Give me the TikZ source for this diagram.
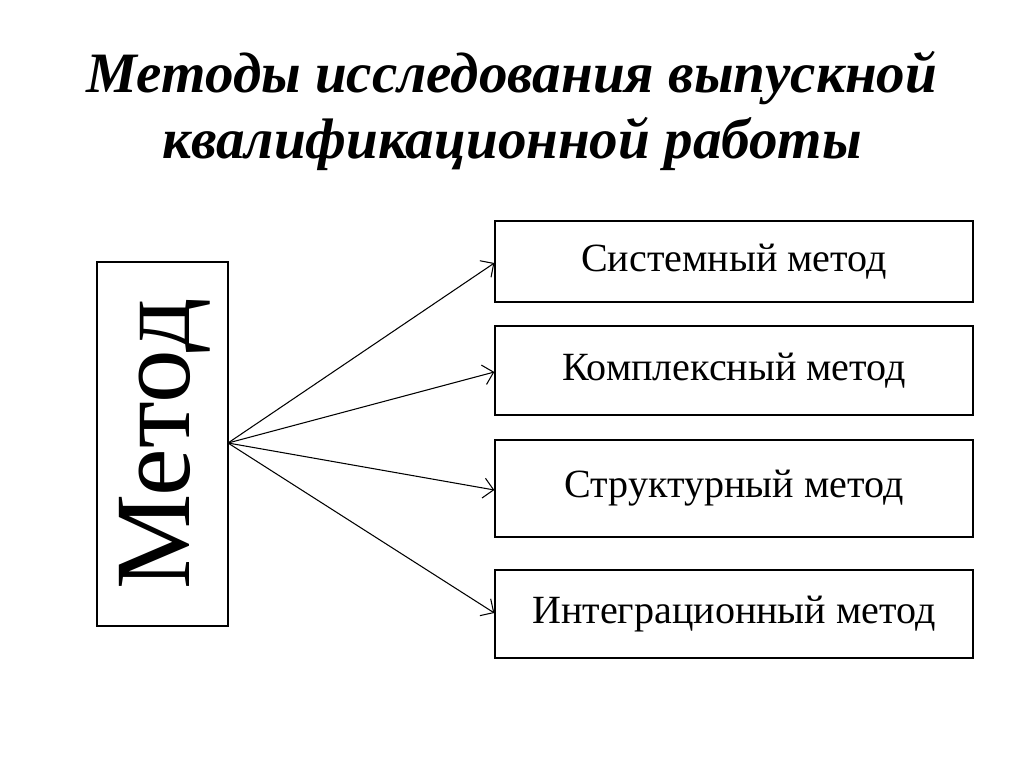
\documentclass[tikz,border=0pt]{standalone}
\usepackage{fontspec}
\setmainfont{Liberation Serif}
\usetikzlibrary{arrows.meta, positioning}

\begin{document}
\begin{tikzpicture}[
        x=0.02cm, y=-0.02cm,
        method/.style={
            rectangle,
            draw,
            thick,
            minimum width=9.56cm,
            font=\fontsize{22.8}{26}\selectfont
        },
        line/.style={
            draw,
            line width=0.6pt,
            -{Straight Barb[length=2mm]}
        }
    ]
    \useasboundingbox (0,0) rectangle (1024,767);
    % Title
    \node[font=\fontsize{32.5}{38}\selectfont\bfseries\itshape, align=center] (title) at (512,111)
        {Методы исследования выпускной\\квалификационной работы};

    % Nodes
    \node[draw, thick, minimum width=2.62cm, minimum height=7.28cm] (main) at (162.5,444) {};
    \node[rotate=90, font=\fontsize{61}{66}\selectfont] (mainlabel) at (165,444) {Метод};
    \node[method, minimum height=1.62cm] (system) at (734,261.5) {Системный метод};
    \node[method, minimum height=1.78cm] (complex) at (734,370.5) {Комплексный метод};
    \node[method, minimum height=1.94cm] (struct) at (734,488.5) {Структурный метод};
    \node[method, minimum height=1.76cm] (integr) at (734,614) {Интеграционный метод};

    % Arrows
    \coordinate (src) at (228,443);
    \path[line] (src) -- (system.west |- 0,263);
    \path[line] (src) -- (complex.west |- 0,372);
    \path[line] (src) -- (struct.west |- 0,490);
    \path[line] (src) -- (integr.west |- 0,613);
\end{tikzpicture}
\end{document}
